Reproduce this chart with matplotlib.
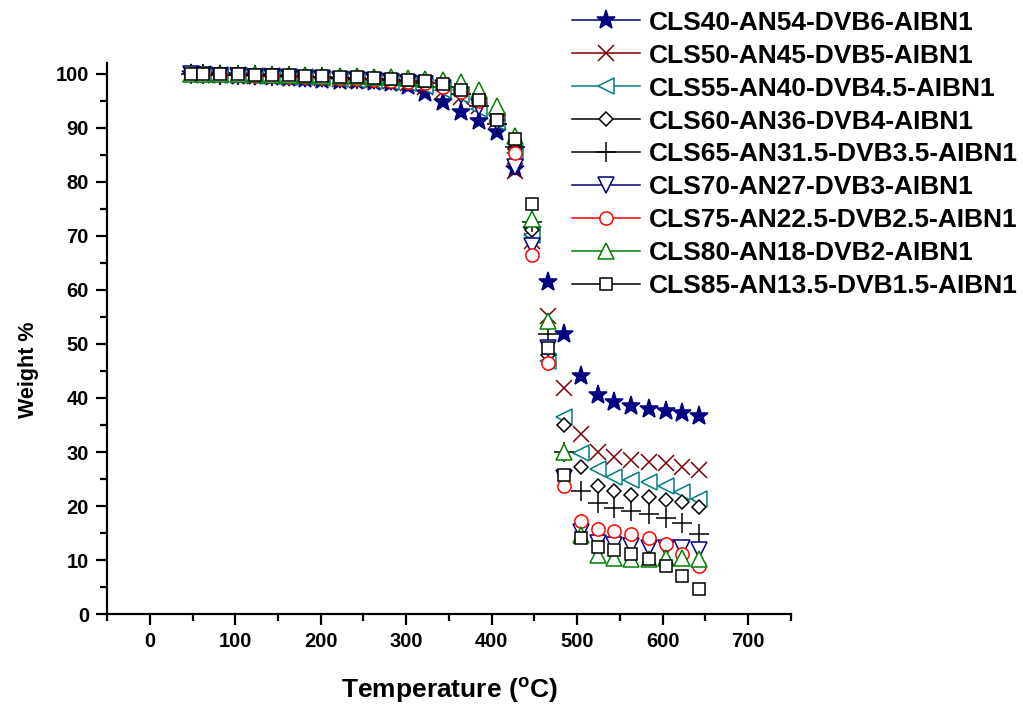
import matplotlib.pyplot as plt
from matplotlib.lines import Line2D

plt.rcParams['font.family'] = ['Liberation Sans', 'DejaVu Sans']
plt.rcParams['font.weight'] = 'bold'

# Temperature points (deg C)
temp = [48, 62, 82, 103, 123, 143, 163, 182, 202, 222, 242, 262, 282, 302,
        322, 343, 364, 385, 406, 427, 447, 466, 485, 504, 524, 543, 563, 584,
        604, 623, 642]

# Weight % for each sample
cls40 = [100.0, 99.8, 99.7, 99.6, 99.5, 99.3, 99.2, 99.0, 98.9, 98.7, 98.6, 98.4, 98.2, 97.8,
         96.5, 94.8, 92.9, 91.2, 89.2, 82.3, 71.0, 61.5, 51.9, 44.1, 40.6, 39.3, 38.5, 38.0,
         37.6, 37.2, 36.7]
cls50 = [100.0, 99.9, 99.8, 99.7, 99.6, 99.5, 99.4, 99.3, 99.2, 99.1, 98.9, 98.8, 98.6, 98.3,
         97.5, 96.8, 95.7, 94.0, 91.5, 82.0, 69.0, 55.2, 41.8, 33.3, 30.1, 29.1, 28.5, 28.2,
         27.9, 27.3, 26.7]
cls55 = [100.0, 99.9, 99.8, 99.7, 99.6, 99.5, 99.4, 99.3, 99.2, 99.0, 98.9, 98.7, 98.5, 98.3,
         97.8, 97.0, 96.0, 93.5, 91.0, 85.4, 70.1, 46.9, 36.4, 29.9, 26.8, 25.4, 24.8, 24.4,
         23.7, 22.7, 21.4]
cls60 = [100.0, 99.9, 99.9, 99.8, 99.7, 99.7, 99.6, 99.5, 99.4, 99.3, 99.2, 99.0, 98.9, 98.7,
         98.4, 97.7, 96.6, 94.5, 91.5, 86.0, 71.0, 48.0, 35.0, 27.3, 23.8, 22.8, 22.0, 21.6,
         21.1, 20.8, 19.9]
cls65 = [100.0, 99.9, 99.8, 99.8, 99.7, 99.6, 99.5, 99.4, 99.3, 99.2, 99.1, 99.0, 98.8, 98.6,
         98.2, 97.5, 96.3, 94.0, 90.7, 86.5, 72.5, 51.9, 30.0, 22.8, 20.5, 19.6, 19.1, 18.6,
         17.8, 16.9, 14.9]
cls70 = [99.9, 99.7, 99.6, 99.5, 99.4, 99.3, 99.2, 99.1, 99.0, 98.9, 98.8, 98.6, 98.5, 98.3,
         98.0, 97.3, 96.0, 93.8, 91.0, 82.8, 68.2, 49.2, 25.2, 15.2, 13.2, 12.8, 12.6, 12.3,
         12.2, 12.2, 11.9]
cls75 = [100.0, 99.9, 99.8, 99.7, 99.6, 99.5, 99.4, 99.3, 99.2, 99.1, 99.0, 98.9, 98.7, 98.5,
         98.2, 97.6, 96.6, 95.0, 92.1, 85.4, 66.5, 46.4, 23.7, 17.3, 15.7, 15.4, 14.8, 14.1,
         13.0, 11.1, 8.9]
cls80 = [100.0, 100.0, 100.0, 99.9, 99.9, 99.8, 99.8, 99.7, 99.6, 99.5, 99.5, 99.4, 99.3, 99.2,
         99.0, 98.8, 98.4, 97.0, 94.0, 88.5, 73.1, 54.3, 30.0, 14.6, 10.9, 10.4, 10.2, 10.2,
         10.4, 10.4, 10.2]
cls85 = [100.0, 100.0, 99.9, 99.9, 99.8, 99.8, 99.7, 99.6, 99.5, 99.4, 99.3, 99.2, 99.0, 98.9,
         98.7, 98.1, 97.0, 95.2, 91.5, 87.9, 75.9, 49.3, 25.7, 14.1, 12.5, 11.9, 11.2, 10.3,
         8.9, 7.0, 4.6]

labels = ['CLS40-AN54-DVB6-AIBN1', 'CLS50-AN45-DVB5-AIBN1', 'CLS55-AN40-DVB4.5-AIBN1',
          'CLS60-AN36-DVB4-AIBN1', 'CLS65-AN31.5-DVB3.5-AIBN1', 'CLS70-AN27-DVB3-AIBN1',
          'CLS75-AN22.5-DVB2.5-AIBN1', 'CLS80-AN18-DVB2-AIBN1', 'CLS85-AN13.5-DVB1.5-AIBN1']
series = [cls40, cls50, cls55, cls60, cls65, cls70, cls75, cls80, cls85]

# marker, colour, size, filled
styles = [('*', '#000080', 14, True),
          ('x', '#800000', 11, False),
          ('<', '#008080', 11, False),
          ('D', '#000000', 7, False),
          ('+', '#000000', 14, False),
          ('v', '#000080', 11, False),
          ('o', '#ff0000', 9.5, False),
          ('^', '#008000', 11, False),
          ('s', '#000000', 8, False)]

fig = plt.figure(figsize=(10.23, 7.06), dpi=100)
ax = fig.add_axes([0.1046, 0.130, 0.6686, 0.781])

handles = []
for y, lab, (m, c, ms, filled) in zip(series, labels, styles):
    fc = c if filled else 'white'
    if m in ('x', '+'):
        fc = c
    ax.plot(temp, y, linestyle='none', marker=m, color=c, markersize=ms,
            markerfacecolor=fc, markeredgecolor=c, markeredgewidth=1.1)
    handles.append(Line2D([], [], color=c, lw=1.1, marker=m, markersize=ms,
                          markerfacecolor=fc, markeredgecolor=c, markeredgewidth=1.1,
                          label=lab))

ax.set_xlim(-50, 750)
ax.set_ylim(0, 102)
ax.set_xticks(range(0, 701, 100))
ax.set_xticks(range(-50, 751, 50), minor=True)
ax.set_yticks(range(0, 101, 10))
ax.set_yticks(range(5, 101, 10), minor=True)
ax.spines['top'].set_visible(False)
ax.spines['right'].set_visible(False)
for s in ('left', 'bottom'):
    ax.spines[s].set_linewidth(1.6)
ax.tick_params(which='major', direction='out', length=8, width=1.6, labelsize=14.5, pad=5)
ax.tick_params(which='minor', direction='out', length=5, width=1.6)
for t in ax.get_xticklabels() + ax.get_yticklabels():
    t.set_fontweight('bold')

ax.set_xlabel(r'Temperature ($\mathregular{^o}$C)', fontsize=19, fontweight='bold', labelpad=18)
ax.set_ylabel('Weight %', fontsize=15.5, fontweight='bold')
ax.yaxis.set_label_coords(-0.099, 0.443)

fig.legend(handles=handles, loc='upper left', bbox_to_anchor=(0.559, 0.985),
           frameon=False, prop={'weight': 'bold', 'size': 19},
           handlelength=2.6, handletextpad=0.3, labelspacing=0.34,
           borderpad=0, borderaxespad=0)

fig.savefig('out.png', dpi=100)
